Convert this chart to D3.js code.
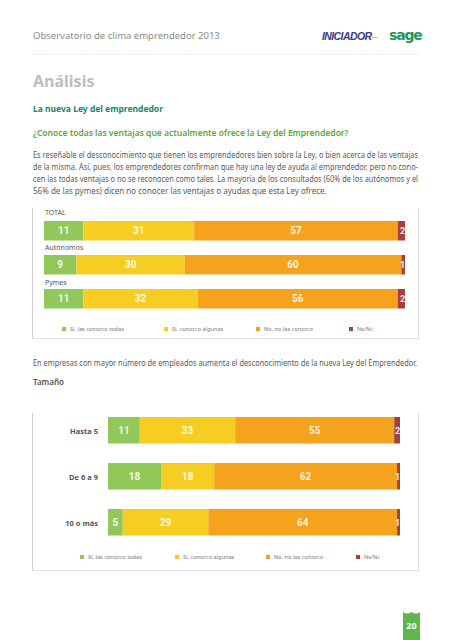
<!DOCTYPE html>
<html><head><meta charset="utf-8">
<script src="https://cdn.jsdelivr.net/npm/d3@7"></script>
<style>body{margin:0;background:#fff}svg{display:block}</style>
</head><body>
<script>
const seriesNames = ["Sí, las conozco todas", "Sí, conozco algunas", "No, no las conozco", "Ns/Nc"];
const colors = ["#92c85a", "#f6cd23", "#f5a21d", "#a3413a"];
const cats1 = ["TOTAL", "Autónomos", "Pymes"];
const conozcoTodas1 = [11, 9, 11];
const conozcoAlgunas1 = [31, 30, 32];
const noConozco1 = [57, 60, 56];
const nsnc1 = [2, 1, 2];
const cats2 = ["Hasta 5", "De 6 a 9", "10 o más"];
const conozcoTodas2 = [11, 18, 5];
const conozcoAlgunas2 = [33, 18, 29];
const noConozco2 = [55, 62, 64];
const nsnc2 = [2, 1, 1];

const W = 453, H = 640;
const svg = d3.select("body").append("svg").attr("width", W).attr("height", H);
const F = "'Noto Sans', sans-serif";

// header
svg.append("text").attr("x", 33).attr("y", 39).attr("font-family", F).attr("font-size", 9.5).attr("fill", "#8a8a8a").text("Observatorio de clima emprendedor 2013");
svg.append("text").attr("x", 322).attr("y", 40).attr("font-family", "'Liberation Sans', sans-serif").attr("font-weight", "bold").attr("font-style", "italic").attr("font-size", 10.5).attr("letter-spacing", -0.6).attr("fill", "#3b3a8c").text("INICIADOR")
  .append("tspan").attr("fill", "#f2a33a").attr("font-weight", "normal").text("–");
svg.append("text").attr("x", 389).attr("y", 40).attr("font-family", "'DejaVu Sans', sans-serif").attr("font-weight", "bold").attr("font-size", 14).attr("letter-spacing", -1.2).attr("fill", "#1f9a5a").text("sage");
svg.append("line").attr("x1", 33).attr("x2", 420).attr("y1", 54.5).attr("y2", 54.5).attr("stroke", "#eeeeee").attr("stroke-width", 1);

svg.append("text").attr("x", 33).attr("y", 87).attr("font-family", F).attr("font-weight", "bold").attr("font-size", 16).attr("fill", "#bdbdbd").text("Análisis");
svg.append("text").attr("x", 33).attr("y", 112).attr("font-family", F).attr("font-weight", "bold").attr("font-size", 8.5).attr("fill", "#17876a").text("La nueva Ley del emprendedor");
svg.append("text").attr("x", 33).attr("y", 136).attr("font-family", F).attr("font-weight", "600").attr("font-size", 8.5).attr("fill", "#5aa83a").text("¿Conoce todas las ventajas que actualmente ofrece la Ley del Emprendedor?");

const para = [
  "Es reseñable el desconocimiento que tienen los emprendedores bien sobre la Ley, o bien acerca de las ventajas",
  "de la misma. Así, pues, los emprendedores confirman que hay una ley de ayuda al emprendedor, pero no cono-",
  "cen las todas ventajas o no se reconocen como tales. La mayoría de los consultados (60% de los autónomos y el",
  "56% de las pymes) dicen no conocer  las ventajas o ayudas que esta Ley ofrece."
];
para.forEach((t, i) => {
  svg.append("text").attr("x", 33).attr("y", 158 + i * 12).attr("font-family", F).attr("font-size", 8).attr("fill", "#5a5a5a")
    .attr("textLength", i < 3 ? 385 : null).attr("lengthAdjust", "spacingAndGlyphs").text(t);
});

function frame(x0, y0, x1, y1) {
  const g = svg.append("g").attr("fill", "none").attr("stroke", "#e2e2e2").attr("stroke-width", 1);
  g.append("path").attr("d", `M${x0},${y0}V${y1}H${x1}V${y0}`);
  svg.append("line").attr("x1", x0).attr("x2", x0).attr("y1", y0).attr("y2", y1).attr("stroke", "#cfcfcf");
}

function legend(y, xs) {
  seriesNames.forEach((n, i) => {
    svg.append("rect").attr("x", xs[i]).attr("y", y - 4).attr("width", 4).attr("height", 4).attr("fill", colors[i]);
    svg.append("text").attr("x", xs[i] + 8).attr("y", y).attr("font-family", F).attr("font-size", 5.6).attr("fill", "#777").text(n);
  });
}

function stacked(rows, x0, x1, bars, barH) {
  rows.forEach((r, ri) => {
    const total = d3.sum(r.vals);
    const x = d3.scaleLinear().domain([0, total]).range([x0, x1]);
    let acc = 0;
    r.vals.forEach((v, i) => {
      const a = acc; acc += v;
      svg.append("rect").attr("x", x(a)).attr("y", bars[ri]).attr("width", x(acc) - x(a)).attr("height", barH).attr("fill", colors[i]);
      const cx = i === 3 ? x(acc) - 2.5 : (x(a) + x(acc)) / 2;
      svg.append("text").attr("x", cx).attr("y", bars[ri] + barH / 2 + 3.5).attr("text-anchor", "middle")
        .attr("font-family", "'Roboto', sans-serif").attr("font-weight", "bold").attr("font-size", i === 3 ? 9 : 10)
        .attr("fill", "#fff").attr("fill-opacity", 0.92).attr("transform", null).text(v);
    });
  });
}

// chart 1
frame(32.5, 208, 418.5, 338.5);
const rows1 = cats1.map((c, i) => ({cat: c, vals: [conozcoTodas1[i], conozcoAlgunas1[i], noConozco1[i], nsnc1[i]]}));
const labY1 = [215, 250, 285];
rows1.forEach((r, i) => {
  svg.append("text").attr("x", 45).attr("y", labY1[i]).attr("font-family", F).attr("font-size", 7).attr("font-weight", i === 0 ? "normal" : "normal").attr("fill", "#555").text(r.cat);
});
stacked(rows1, 44, 405, [221, 255, 289], 19.5);
legend(331, [62, 164, 256, 349]);

// text between charts
svg.append("text").attr("x", 33).attr("y", 366).attr("font-family", F).attr("font-size", 8).attr("fill", "#5a5a5a").attr("textLength", 384).attr("lengthAdjust", "spacingAndGlyphs").text("En empresas con mayor número de empleados aumenta el desconocimiento de la nueva Ley del Emprendedor.");
svg.append("text").attr("x", 33).attr("y", 385).attr("font-family", F).attr("font-weight", "600").attr("font-size", 8).attr("fill", "#555").text("Tamaño");

// chart 2
frame(32.5, 413, 418.5, 570.5);
const rows2 = cats2.map((c, i) => ({cat: c, vals: [conozcoTodas2[i], conozcoAlgunas2[i], noConozco2[i], nsnc2[i]]}));
const bars2 = [417, 463, 509];
rows2.forEach((r, i) => {
  svg.append("text").attr("x", 98).attr("y", bars2[i] + 13.5 + 3).attr("text-anchor", "end").attr("font-family", F).attr("font-weight", "bold").attr("font-size", 7.5).attr("fill", "#555").text(r.cat);
});
stacked(rows2, 108, 400, bars2, 26.5);
legend(559, [80, 175, 266, 356]);

// page number
svg.append("path").attr("d", "M403,640V612Q407.5,615 411.5,612Q415.5,615 420,612V640Z").attr("fill", "#5cb848");
svg.append("text").attr("x", 411.5).attr("y", 628.5).attr("text-anchor", "middle").attr("font-family", F).attr("font-weight", "bold").attr("font-size", 9).attr("fill", "#fff").text("20");
</script>
</body></html>
